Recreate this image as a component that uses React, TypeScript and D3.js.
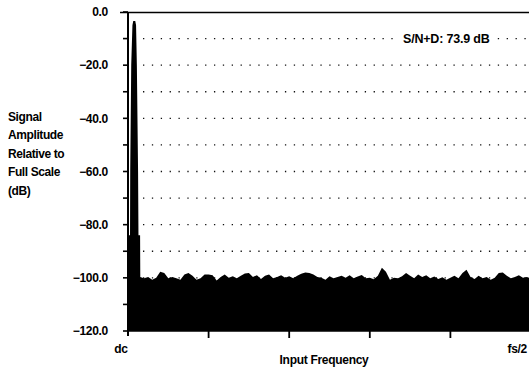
import { useEffect, useRef } from "react";
import * as d3 from "d3";

// y axis ticks (dB), labelled every 20, tick marks every 10
const yLabels = [0, -20, -40, -60, -80, -100, -120];
const yMinorTicks = [0, -10, -20, -30, -40, -50, -60, -70, -80, -90, -100, -110, -120];
const gridLevels = [-10, -20, -30, -40, -50, -60, -70, -80, -90, -100];

// x axis: frequency in % of fs/2
const xTicks = [0, 20, 40, 60, 80, 100];
const xTickLabels = ["dc", "", "", "", "", "fs/2"];

// fundamental near dc
const spikeFreq = [0.2, 0.25, 0.5, 0.55, 0.8, 1.1, 1.3, 1.8, 2.0, 2.2, 2.5, 2.6, 3.0, 3.05];
const spikeDb = [-100, -84, -84, -60, -20, -5, -3.4, -3.4, -5, -20, -60, -84, -84, -100];

// noise floor, one value per bin 0..100
const noiseDb = [
  -99.2, -99.2, -99.2, -99.7, -100.2, -99.7, -100.7, -100, -97.7, -98.2,
  -100.2, -99.7, -100.2, -100.7, -98.7, -98.2, -99.2, -100.7, -100.2, -98.7,
  -98.7, -99, -101, -99.7, -98.7, -100, -99.4, -100.2, -99.2, -98.4,
  -98.2, -99.7, -99, -100.4, -99.2, -98.7, -100.2, -99.7, -99, -100,
  -99.4, -100.2, -99.2, -98.5, -98, -98.2, -98.7, -99.7, -100, -100.7,
  -99.4, -100.2, -99.7, -99.2, -100, -99, -100.2, -99.5, -98.9, -100.2,
  -100, -100.5, -99.2, -96.2, -97.7, -100.7, -100, -100.2, -99.4, -98.2,
  -99.2, -100.2, -98.7, -99.7, -99, -100.2, -99.5, -100.4, -99.8, -100.7,
  -100, -99.2, -100.2, -98.2, -97, -99.7, -100.4, -99.2, -100.2, -99.7,
  -100.7, -100, -98.2, -98, -99.2, -100.2, -99.7, -99, -100, -99.7,
  -100.2,
];

const yLabelLines = ["Signal", "Amplitude", "Relative to", "Full Scale", "(dB)"];
const annotation = "S/N+D: 73.9 dB";

export default function App() {
  const ref = useRef<SVGSVGElement>(null);

  useEffect(() => {
    const width = 529;
    const height = 371;
    const margin = { top: 12, left: 128, bottom: 40, right: -2 };
    const font = "'Liberation Sans', Arial, Helvetica, sans-serif";

    const svg = d3.select(ref.current).attr("width", width).attr("height", height);
    svg.selectAll("*").remove();

    const x = d3
      .scaleLinear()
      .domain([0, 100])
      .range([margin.left, width - margin.right]);

    const y = d3
      .scaleLinear()
      .domain([-120, 0])
      .range([height - margin.bottom, margin.top]);

    // dotted grid
    svg
      .append("g")
      .selectAll("line")
      .data(gridLevels)
      .enter()
      .append("line")
      .attr("x1", x(0) + 15)
      .attr("x2", width)
      .attr("y1", (d) => y(d))
      .attr("y2", (d) => y(d))
      .attr("stroke", "#111")
      .attr("stroke-width", 1.3)
      .attr("stroke-dasharray", "1.3,7.57");

    // noise floor
    const noise = noiseDb.map((v, i) => [i, v] as [number, number]);
    const area = d3
      .area<[number, number]>()
      .x((d) => x(d[0]))
      .y0(y(-120))
      .y1((d) => y(d[1]));

    svg.append("path").datum(noise).attr("fill", "#000").attr("d", area);

    const spike = spikeFreq.map((f, i) => [f, spikeDb[i]] as [number, number]);
    svg.append("path").datum(spike).attr("fill", "#000").attr("d", area);

    // axes
    svg
      .append("line")
      .attr("x1", x(0))
      .attr("x2", x(0))
      .attr("y1", y(0))
      .attr("y2", y(-120) + 5)
      .attr("stroke", "#000")
      .attr("stroke-width", 2);

    svg
      .append("line")
      .attr("x1", x(0) - 8)
      .attr("x2", width)
      .attr("y1", y(0) + 0.5)
      .attr("y2", y(0) + 0.5)
      .attr("stroke", "#000")
      .attr("stroke-width", 1.6);

    svg
      .append("line")
      .attr("x1", x(0))
      .attr("x2", width)
      .attr("y1", y(-120))
      .attr("y2", y(-120))
      .attr("stroke", "#000")
      .attr("stroke-width", 1.5);

    svg
      .append("g")
      .selectAll("line")
      .data(yMinorTicks)
      .enter()
      .append("line")
      .attr("x1", x(0) - 5)
      .attr("x2", x(0))
      .attr("y1", (d) => y(d))
      .attr("y2", (d) => y(d))
      .attr("stroke", "#000")
      .attr("stroke-width", 1.6);

    svg
      .append("g")
      .selectAll("line")
      .data(xTicks.slice(1))
      .enter()
      .append("line")
      .attr("x1", (d) => x(d))
      .attr("x2", (d) => x(d))
      .attr("y1", y(-120))
      .attr("y2", y(-120) + 7)
      .attr("stroke", "#000")
      .attr("stroke-width", 1.8);

    svg
      .append("g")
      .selectAll("text")
      .data(yLabels)
      .enter()
      .append("text")
      .attr("x", 108)
      .attr("y", (d) => y(d))
      .attr("dy", "0.35em")
      .attr("text-anchor", "end")
      .attr("font-family", font)
      .attr("font-weight", "bold")
      .attr("font-size", "12px")
      .attr("letter-spacing", "-0.3")
      .text((d) => d3.format(".1f")(d));

    svg
      .append("g")
      .selectAll("text")
      .data(xTicks)
      .enter()
      .append("text")
      .attr("x", (d, i) => (i === 0 ? x(d) - 7 : width - 2))
      .attr("y", y(-120) + 22)
      .attr("text-anchor", (d, i) => (i === 0 ? "middle" : "end"))
      .attr("font-family", font)
      .attr("font-weight", "bold")
      .attr("font-size", "12px")
      .attr("letter-spacing", "-0.3")
      .text((d, i) => xTickLabels[i]);

    svg
      .append("text")
      .attr("x", 324)
      .attr("y", 364)
      .attr("text-anchor", "middle")
      .attr("font-family", font)
      .attr("font-weight", "bold")
      .attr("font-size", "12px")
      .attr("letter-spacing", "-0.3")
      .text("Input Frequency");

    svg
      .append("g")
      .selectAll("text")
      .data(yLabelLines)
      .enter()
      .append("text")
      .attr("x", 8)
      .attr("y", (d, i) => 121 + i * 18.4)
      .attr("font-family", font)
      .attr("font-weight", "bold")
      .attr("font-size", "12px")
      .attr("letter-spacing", "-0.4")
      .text((d) => d);

    // S/N+D note
    svg
      .append("rect")
      .attr("x", 399)
      .attr("y", y(-10) - 8)
      .attr("width", 98)
      .attr("height", 16)
      .attr("fill", "#fff");

    svg
      .append("text")
      .attr("x", 403)
      .attr("y", y(-10))
      .attr("dy", "0.36em")
      .attr("font-family", font)
      .attr("font-weight", "bold")
      .attr("font-size", "12.5px")
      .attr("letter-spacing", "-0.2")
      .text(annotation);
  }, []);

  return (
    <svg
      ref={ref}
      style={{ position: "absolute", left: 0, top: 0, display: "block", background: "#fff" }}
    />
  );
}
